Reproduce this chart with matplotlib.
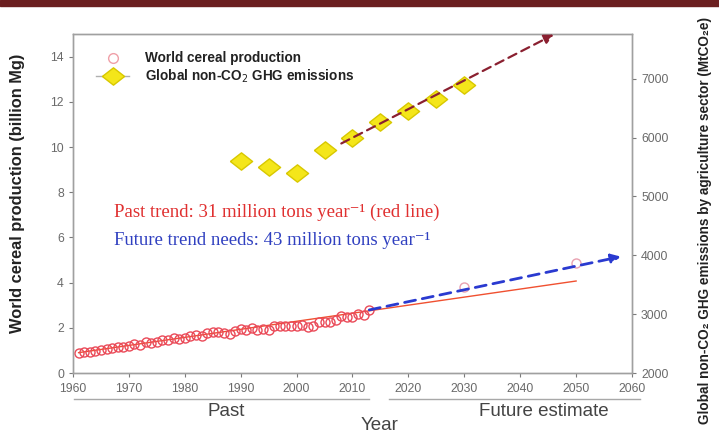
import matplotlib
matplotlib.use("Agg")
import matplotlib.pyplot as plt
from matplotlib.lines import Line2D
from matplotlib.patches import Rectangle
import numpy as np

# ---------------- data ----------------
cereal_years = list(range(1961, 2014))
cereal_vals = [0.88, 0.92, 0.95, 0.99, 1.00, 1.08, 1.12, 1.16, 1.17, 1.19,
               1.29, 1.25, 1.35, 1.32, 1.36, 1.46, 1.44, 1.56, 1.52, 1.55,
               1.63, 1.69, 1.63, 1.79, 1.82, 1.83, 1.76, 1.72, 1.86, 1.95,
               1.89, 1.97, 1.90, 1.96, 1.90, 2.07, 2.09, 2.08, 2.09, 2.06,
               2.11, 2.03, 2.09, 2.27, 2.27, 2.24, 2.35, 2.52, 2.49, 2.47,
               2.59, 2.57, 2.78]
future_years = [2030, 2050]
future_vals = [3.82, 4.87]

past_trend_years = [1961, 2050]
past_trend_vals = [0.90, 4.07]
future_trend_years = [2013, 2058]
future_trend_vals = [2.79, 5.15]

ghg_years = [1990, 1995, 2000, 2005, 2010, 2015, 2020, 2025, 2030]
ghg_vals = [5610, 5508, 5406, 5793, 5997, 6269, 6456, 6660, 6898]
ghg_trend_years = [2008, 2046]
ghg_trend_vals = [5900, 7750]

xticks = list(range(1960, 2061, 10))
left_ticks = list(range(0, 15, 2))
right_ticks = list(range(2000, 7001, 1000))

# ---------------- figure ----------------
plt.rcParams['font.family'] = ['Liberation Sans', 'DejaVu Sans']
fig = plt.figure(figsize=(7.19, 4.33), dpi=100)
fig.patches.append(Rectangle((0, 1 - 6 / 433), 1, 6 / 433, transform=fig.transFigure,
                             color='#6b1f20', zorder=10))

ax = fig.add_axes([73 / 719, 60 / 433, (632 - 73) / 719, (373 - 34) / 433])
ax2 = ax.twinx()

grey = '#7a7a7a'
for a in (ax, ax2):
    for s in a.spines.values():
        s.set_color('#a0a0a0')
        s.set_linewidth(1.0)
    a.tick_params(colors=grey, labelcolor='#6a6a6a', labelsize=8.8, length=3, width=0.8,
                  direction='out')

ax.set_xlim(1960, 2060)
ax.set_ylim(0, 15)
ax2.set_ylim(2000, 7760)
ax.set_xticks(xticks)
ax.set_yticks(left_ticks)
ax2.set_yticks(right_ticks)
ax.tick_params(axis='x', pad=4)

flat_diamond = [(-1, 0), (0, 0.78), (1, 0), (0, -0.78), (-1, 0)]

# cereal production
ax.plot(cereal_years, cereal_vals, 'o', ms=6.5, mfc='none', mec='#ea4a58', mew=1.0, zorder=3)
ax.plot(future_years, future_vals, 'o', ms=6.5, mfc='none', mec='#e9a0b0', mew=1.0, zorder=3)
ax.plot(past_trend_years, past_trend_vals, '-', color='#f05030', lw=1.0, zorder=2)
ax.annotate('', xy=(future_trend_years[1], future_trend_vals[1]),
            xytext=(future_trend_years[0], future_trend_vals[0]),
            arrowprops=dict(arrowstyle='-|>', color='#2a3ad0', lw=2.0, ls=(0, (4, 2.5)),
                            mutation_scale=14, shrinkA=0, shrinkB=0), zorder=4)

# GHG emissions
ax2.plot(ghg_years, ghg_vals, marker=flat_diamond, ls='none', ms=16, mfc='#f4e61a',
         mec='#d8c800', mew=1.0, zorder=3)
ax2.annotate('', xy=(ghg_trend_years[1], ghg_trend_vals[1]),
             xytext=(ghg_trend_years[0], ghg_trend_vals[0]),
             arrowprops=dict(arrowstyle='-|>', color='#8a2030', lw=1.6, ls=(0, (4, 2.5)),
                             mutation_scale=14, shrinkA=0, shrinkB=0), zorder=4)

# legend
h1 = Line2D([], [], marker='o', ls='none', ms=7, mfc='none', mec='#f0a0a8', mew=1.0)
h2 = Line2D([], [], marker=flat_diamond, color='#b0b0b0', lw=1.0, ms=16, mfc='#f4e61a',
            mec='#d8c800')
leg = ax.legend([h1, h2], ['World cereal production', 'Global non-CO$_2$ GHG emissions'],
                loc='upper left', bbox_to_anchor=(0.02, 0.985), frameon=False,
                prop=dict(weight='bold', size=9.8), handlelength=2.4, handletextpad=1.2,
                labelspacing=0.2)
for t in leg.get_texts():
    t.set_color('#222222')

# annotations
serif = ['Liberation Serif', 'DejaVu Serif']
ax.text(1967.3, 7.09, 'Past trend: 31 million tons year\u207b\u00b9 (red line)', color='#e03030',
        fontsize=13.5, family=serif, va='center', ha='left')
ax.text(1967.3, 5.85, 'Future trend needs: 43 million tons year\u207b\u00b9', color='#3040c0',
        fontsize=13.5, family=serif, va='center', ha='left')

# axis labels
fig.text(18 / 719, 1 - 193 / 433, 'World cereal production (billion Mg)', rotation=90,
         ha='center', va='center', fontsize=11.8, weight='bold', color='#222222')
fig.text(705 / 719, 1 - 220 / 433,
         'Global non-CO\u2082 GHG emissions by agriculture sector (MtCO\u2082e)', rotation=90,
         ha='center', va='center', fontsize=9.8, weight='bold', color='#222222')

# bottom period labels
fig.add_artist(Line2D([74 / 719, 369 / 719], [1 - 399 / 433] * 2, color='#a8a8a8', lw=1.0))
fig.add_artist(Line2D([389 / 719, 640 / 719], [1 - 399 / 433] * 2, color='#a8a8a8', lw=1.0))
fig.text(226 / 719, 1 - 411 / 433, 'Past', ha='center', va='center', fontsize=13.5, color='#444444')
fig.text(544 / 719, 1 - 411 / 433, 'Future estimate', ha='center', va='center', fontsize=13.5,
         color='#444444')
fig.text(380 / 719, 1 - 426 / 433, 'Year', ha='center', va='center', fontsize=13.5, color='#444444')

fig.savefig('out.png', dpi=100)
